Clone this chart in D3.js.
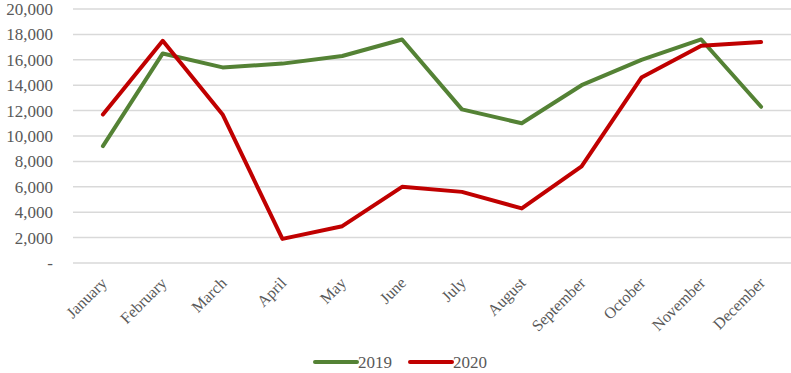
<!DOCTYPE html>
<html>
<head>
<meta charset="utf-8">
<script src="https://cdn.jsdelivr.net/npm/d3@7"></script>
<style>
  body { margin: 0; background: #fff; }
  svg text { font-family: "Liberation Serif", "Times New Roman", serif; fill: #595959; }
</style>
</head>
<body>
<div id="chart"></div>
<script>
// Data
const months = ["January", "February", "March", "April", "May", "June",
  "July", "August", "September", "October", "November", "December"];
const values2019 = [9200, 16500, 15400, 15700, 16300, 17600, 12100, 11000, 14000, 16000, 17600, 12300];
const values2020 = [11700, 17500, 11700, 1900, 2900, 6000, 5600, 4300, 7600, 14600, 17100, 17400];
const yTicks = [0, 2000, 4000, 6000, 8000, 10000, 12000, 14000, 16000, 18000, 20000];
const seriesNames = ["2019", "2020"];

const W = 791, H = 373;
const margin = { top: 9, right: 0, bottom: 110, left: 73 };
const colors = d3.scaleOrdinal().domain(seriesNames).range(["#548235", "#C00000"]);

const svg = d3.select("#chart").append("svg")
  .attr("width", W)
  .attr("height", H);

const x = d3.scaleBand().domain(months).range([margin.left, W]);
const y = d3.scaleLinear().domain([0, 20000]).range([H - margin.bottom, margin.top]);

// gridlines
svg.append("g")
  .selectAll("line")
  .data(yTicks)
  .enter()
  .append("line")
  .attr("x1", margin.left)
  .attr("x2", W)
  .attr("y1", d => y(d))
  .attr("y2", d => y(d))
  .attr("stroke", "#d9d9d9")
  .attr("stroke-width", 1.5);

// y labels
svg.append("g")
  .selectAll("text")
  .data(yTicks)
  .enter()
  .append("text")
  .attr("x", 53)
  .attr("y", d => y(d))
  .attr("dy", "0.35em")
  .attr("text-anchor", "end")
  .style("font-size", "17px")
  .text(d => d === 0 ? "-" : d3.format(",")(d));

// x labels, rotated
svg.append("g")
  .selectAll("text")
  .data(months)
  .enter()
  .append("text")
  .attr("transform", d => `translate(${x(d) + x.bandwidth() / 2 + 1},${y(0) + 17}) rotate(-45)`)
  .attr("text-anchor", "end")
  .attr("dy", "0.35em")
  .style("font-size", "16px")
  .text(d => d);

// lines
const line = d3.line()
  .x((d, i) => x(months[i]) + x.bandwidth() / 2)
  .y(d => y(d));

const series = [values2019, values2020];
series.forEach((vals, k) => {
  svg.append("path")
    .datum(vals)
    .attr("fill", "none")
    .attr("stroke", colors(seriesNames[k]))
    .attr("stroke-width", 4)
    .attr("stroke-linejoin", "round")
    .attr("stroke-linecap", "round")
    .attr("d", line);
});

// legend
const legendX = [315, 410];
const legend = svg.append("g")
  .selectAll("g")
  .data(seriesNames)
  .enter()
  .append("g")
  .attr("transform", (d, i) => `translate(${legendX[i]},362)`);

legend.append("line")
  .attr("x1", 0)
  .attr("x2", 42)
  .attr("stroke", d => colors(d))
  .attr("stroke-width", 4)
  .attr("stroke-linecap", "round");

legend.append("text")
  .attr("x", 43)
  .attr("dy", "0.35em")
  .style("font-size", "17px")
  .text(d => d);
</script>
</body>
</html>
